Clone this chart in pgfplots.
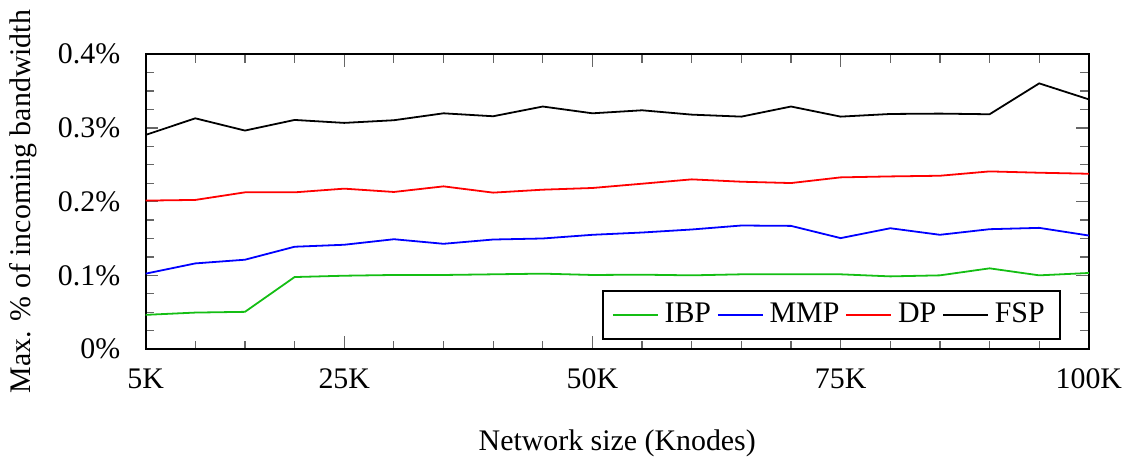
\documentclass[border=0pt]{standalone}
\usepackage{fontspec}
\setmainfont{Liberation Serif}
\usepackage{pgfplots}
\pgfplotsset{compat=1.18}
\definecolor{ibpgreen}{RGB}{20,190,20}

\begin{document}
\begin{tikzpicture}
\begin{axis}[
  scale only axis,
  width=315.7pt, height=98.7pt,
  xmin=5, xmax=100, ymin=0, ymax=0.4,
  xtick={5,25,50,75,100},
  xticklabels={5K,25K,50K,75K,100K},
  minor xtick={10,15,20,30,35,40,45,55,60,65,70,80,85,90,95},
  ytick={0,0.1,0.2,0.3,0.4},
  yticklabels={0\%,0.1\%,0.2\%,0.3\%,0.4\%},
  minor y tick num=3,
  tick align=inside,
  tick pos=both,
  axis line style={line width=0.6pt},
  every tick/.style={black!60, line width=0.4pt},
  xlabel={Network size (Knodes)},
  ylabel={Max. \% of incoming bandwidth},
  xlabel style={yshift=-7pt},
  ticklabel style={font=\fontsize{10}{12}\selectfont},
  xticklabel style={yshift=-3pt},
  yticklabel style={xshift=-5pt},
  label style={font=\fontsize{10}{12}\selectfont},
  legend columns=-1,
  legend style={at={(0.97,0.03)}, anchor=south east,
    draw=black, line width=0.6pt, font=\fontsize{10}{12}\selectfont},
  legend image post style={xscale=0.88, line width=0.6pt},
  every axis plot/.append style={line width=0.6pt},
]
% IBP
\addplot[ibpgreen] coordinates {
  (5,0.0464) (10,0.0495) (15,0.0505) (20,0.0977) (25,0.0995)
  (30,0.1005) (35,0.1005) (40,0.1014) (45,0.1023) (50,0.1005)
  (55,0.1009) (60,0.1000) (65,0.1014) (70,0.1014) (75,0.1014)
  (80,0.0986) (85,0.1000) (90,0.1095) (95,0.1000) (100,0.1032)
};
\addlegendentry{IBP}
% MMP
\addplot[blue] coordinates {
  (5,0.1023) (10,0.1162) (15,0.1212) (20,0.1388) (25,0.1415)
  (30,0.1490) (35,0.1428) (40,0.1486) (45,0.1500) (50,0.1550)
  (55,0.1581) (60,0.1622) (65,0.1676) (70,0.1671) (75,0.1505)
  (80,0.1639) (85,0.1550) (90,0.1626) (95,0.1644) (100,0.1540)
};
\addlegendentry{MMP}
% DP
\addplot[red] coordinates {
  (5,0.2014) (10,0.2023) (15,0.2126) (20,0.2126) (25,0.2176)
  (30,0.2131) (35,0.2207) (40,0.2122) (45,0.2162) (50,0.2185)
  (55,0.2243) (60,0.2302) (65,0.2270) (70,0.2252) (75,0.2329)
  (80,0.2342) (85,0.2351) (90,0.2410) (95,0.2392) (100,0.2378)
};
\addlegendentry{DP}
% FSP
\addplot[black] coordinates {
  (5,0.2905) (10,0.3130) (15,0.2964) (20,0.3108) (25,0.3068)
  (30,0.3104) (35,0.3198) (40,0.3158) (45,0.3290) (50,0.3198)
  (55,0.3239) (60,0.3180) (65,0.3153) (70,0.3290) (75,0.3153)
  (80,0.3189) (85,0.3194) (90,0.3185) (95,0.3604) (100,0.3387)
};
\addlegendentry{FSP}
\end{axis}
\end{tikzpicture}
\end{document}
